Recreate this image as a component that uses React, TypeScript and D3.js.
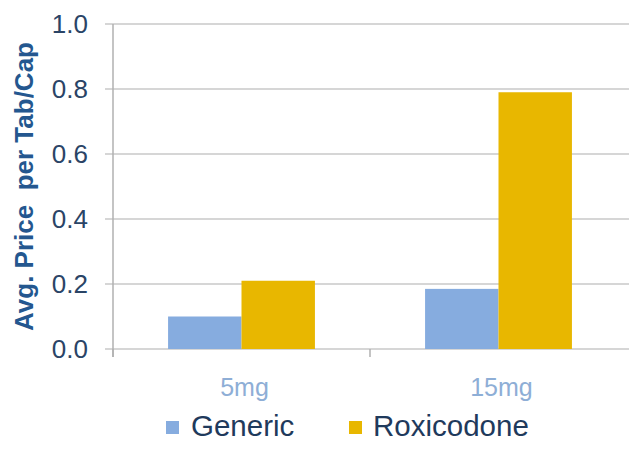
import React from 'react';
import * as d3 from 'd3';

const categories = ['5mg', '15mg'];
const seriesNames = ['Generic', 'Roxicodone'];
const genericValues = [0.1, 0.185];
const roxicodoneValues = [0.21, 0.79];
const yTicks = [0, 0.2, 0.4, 0.6, 0.8, 1.0];

const colors = ['#86acdf', '#e8b700'];
const font = '"Liberation Sans", Arial, sans-serif';

export default function App() {
  const width = 629;
  const height = 450;
  const margin = { top: 24, right: 2, bottom: 101, left: 113 };

  const x = d3.scaleBand()
    .domain(categories)
    .range([margin.left, width - margin.right])
    .paddingInner(0)
    .paddingOuter(0);

  const y = d3.scaleLinear()
    .domain([0, 1])
    .range([height - margin.bottom, margin.top]);

  const inner = d3.scaleBand()
    .domain(seriesNames)
    .range([0, x.bandwidth()])
    .paddingOuter(0.75)
    .paddingInner(0);

  const series = [genericValues, roxicodoneValues];
  const y0 = y(0);
  const legendX = [166, 349];
  const legendTextX = [191, 373];

  return (
    <svg width={width} height={height} style={{ position: 'absolute', left: 0, top: 0, background: '#fff' }}>
      {/* gridlines */}
      {yTicks.map((t) => (
        <line key={t} x1={margin.left - 8} x2={width} y1={y(t)} y2={y(t)} stroke="#c8c8c8" strokeWidth={1.5} />
      ))}
      {/* y axis */}
      <line x1={margin.left} x2={margin.left} y1={margin.top} y2={y0 + 8} stroke="#b0b0b0" strokeWidth={1.5} />
      {/* x ticks */}
      {categories.map((c, i) => (
        <line key={i} x1={x(c)} x2={x(c)} y1={y0} y2={y0 + 8} stroke="#b0b0b0" strokeWidth={1.5} />
      ))}
      {/* bars */}
      {categories.map((c, ci) => (
        <g key={c} transform={`translate(${x(c)},0)`}>
          {seriesNames.map((s, si) => (
            <rect
              key={s}
              x={inner(s)}
              y={y(series[si][ci])}
              width={inner.bandwidth()}
              height={y0 - y(series[si][ci])}
              fill={colors[si]}
            />
          ))}
        </g>
      ))}
      {/* y tick labels */}
      {yTicks.map((t) => (
        <text key={t} x={88} y={y(t)} dy="0.36em" textAnchor="end" fontFamily={font} fontSize={26} fill="#2a4466">
          {d3.format('.1f')(t)}
        </text>
      ))}
      {/* x tick labels */}
      {categories.map((c) => (
        <text key={c} x={x(c)! + x.bandwidth() / 2 + 3} y={396} textAnchor="middle" fontFamily={font} fontSize={25} fill="#8eaed6">
          {c}
        </text>
      ))}
      {/* y axis title */}
      <text
        transform={`translate(33,${(y(1) + y0) / 2}) rotate(-90)`}
        textAnchor="middle"
        fontFamily={font}
        fontSize={26}
        fontWeight="bold"
        fill="#24578f"
        style={{ whiteSpace: 'pre' }}
      >
        {'Avg. Price  per Tab/Cap'}
      </text>
      {/* legend */}
      {seriesNames.map((s, i) => (
        <g key={s}>
          <rect x={legendX[i]} y={421} width={13} height={13} fill={colors[i]} />
          <text x={legendTextX[i]} y={436} fontFamily={font} fontSize={29.5} fill="#1f3a5c">{s}</text>
        </g>
      ))}
    </svg>
  );
}
